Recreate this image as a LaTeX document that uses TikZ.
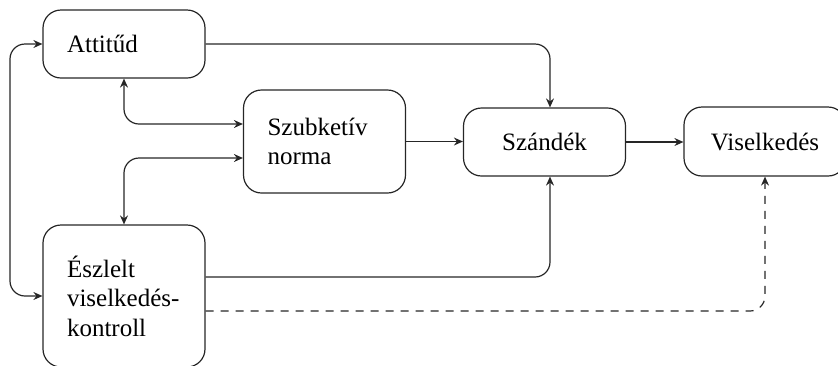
\documentclass[tikz,border=0pt]{standalone}
\usepackage{fontspec}
\setmainfont{Liberation Serif}
\usetikzlibrary{arrows.meta}
\begin{document}
\begin{tikzpicture}[x=1pt,y=-1pt,
  box/.style={draw=black!85, line width=1.2pt, rounded corners=18pt,
    inner xsep=24pt, inner ysep=0pt, text width=114pt,
    font=\fontsize{25}{29.5}\selectfont},
  lbox/.style={box, align=left},
  cbox/.style={box, align=center},
  link/.style={draw=black!85, line width=1.2pt, rounded corners=15pt,
    -{Stealth[length=9pt,width=8pt,inset=3pt]}},
  both/.style={link, {Stealth[length=9pt,width=8pt,inset=3pt]}-{Stealth[length=9pt,width=8pt,inset=3pt]}},
  maybe/.style={link, dash pattern=on 8pt off 7pt}]
\useasboundingbox (0,0) rectangle (838,365);
\clip (0,0) rectangle (838,365);

% boxes
\node[lbox, minimum height=68pt]  (att) at (124,44)    {Attitűd};
\node[lbox, minimum height=103pt] (szn) at (324.5,141.5) {Szubketív\\norma};
\node[cbox, minimum height=68pt]  (szd) at (544.5,142) {Szándék};
\node[cbox, minimum height=69pt]  (vis) at (765,141.5) {Viselkedés};
\node[lbox, minimum height=142pt] (esz) at (124,296)   {Észlelt\\viselkedés-\\kontroll};

% left return line between attitude and perceived control
\coordinate (lx) at (10,170);

% connectors
\draw[link] (att.east) -| ([xshift=5.5pt]szd.north);
\draw[both] (att.south) |- ([yshift=17.5pt]szn.west);
\draw[both] (esz.north) |- ([yshift=-16.5pt]szn.west);
\draw[both] (att.west) -| (lx) |- (esz.west);
\draw[link] (szn.east) -- (szn.east -| szd.west);
\draw[link] (szd.east) -- (szd.east -| vis.west);
\draw[link] ([yshift=19pt]esz.east) -| ([xshift=5.5pt]szd.south);
\draw[maybe] ([yshift=-15pt]esz.east) -| (vis.south);
\end{tikzpicture}
\end{document}
